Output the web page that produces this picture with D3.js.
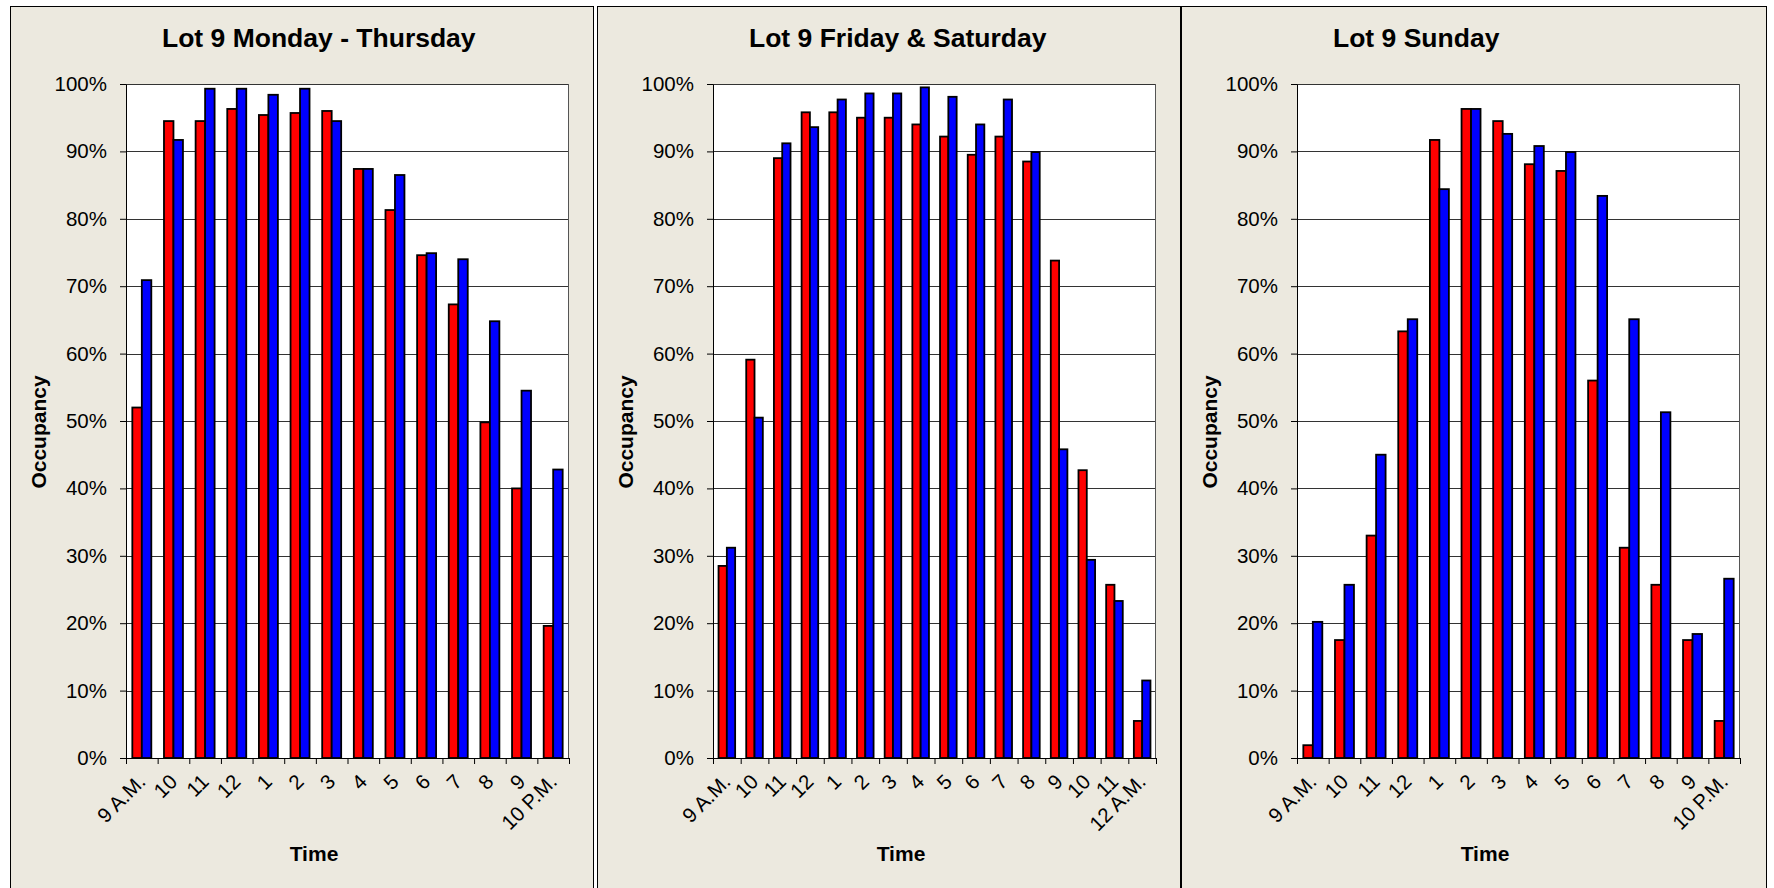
<!DOCTYPE html>
<html>
<head>
<meta charset="utf-8">
<script src="https://cdn.jsdelivr.net/npm/d3@7"></script>
<style>
  body { margin: 0; background: #fff; }
  svg { display: block; font-family: "Liberation Sans", Arial, sans-serif; }
</style>
</head>
<body>
<div class="chart-area"></div>
<script>
// hour labels for each chart
var hoursMonThu = ["9 A.M.", "10", "11", "12", "1", "2", "3", "4", "5", "6", "7", "8", "9", "10 P.M."];
var hoursFriSat = ["9 A.M.", "10", "11", "12", "1", "2", "3", "4", "5", "6", "7", "8", "9", "10", "11", "12 A.M."];
var hoursSun = ["9 A.M.", "10", "11", "12", "1", "2", "3", "4", "5", "6", "7", "8", "9", "10 P.M."];

// occupancy in percent, red series and blue series
var monThuRed  = [52.0, 94.5, 94.5, 96.3, 95.4, 95.7, 96.0, 87.4, 81.3, 74.6, 67.3, 49.8, 40.0, 19.6];
var monThuBlue = [70.9, 91.7, 99.3, 99.3, 98.4, 99.3, 94.5, 87.4, 86.5, 74.9, 74.0, 64.8, 54.5, 42.8];

var friSatRed  = [28.5, 59.1, 89.0, 95.8, 95.8, 95.0, 95.0, 94.0, 92.2, 89.5, 92.2, 88.5, 73.8, 42.7, 25.7, 5.5];
var friSatBlue = [31.2, 50.5, 91.2, 93.6, 97.7, 98.6, 98.6, 99.5, 98.1, 94.0, 97.7, 89.9, 45.8, 29.4, 23.3, 11.5];

var sunRed  = [1.9, 17.5, 33.0, 63.3, 91.7, 96.3, 94.5, 88.1, 87.1, 56.0, 31.2, 25.7, 17.5, 5.5];
var sunBlue = [20.2, 25.7, 45.0, 65.1, 84.4, 96.3, 92.6, 90.8, 89.9, 83.4, 65.1, 51.3, 18.4, 26.6];

var yTicks = [0, 10, 20, 30, 40, 50, 60, 70, 80, 90, 100];
var titles = ["Lot 9 Monday - Thursday", "Lot 9 Friday & Saturday", "Lot 9 Sunday"];

var width = 1774, height = 888;

var svg = d3.select(".chart-area")
    .append("svg")
    .attr("width", width)
    .attr("height", height);

// panel placement
var panelX = [10, 597, 1181];
var panelW = [583, 583, 585];

var plotLeft = 116, plotTop = 84, plotW = 443, plotH = 674;

var y = d3.scaleLinear().domain([0, 100]).range([plotH, 0]);

function drawPanel(i, cats, red, blue) {
    var g = svg.append("g")
        .attr("transform", "translate(" + panelX[i] + ",0)");

    // panel background
    g.append("rect")
        .attr("x", 0.5).attr("y", 6.5)
        .attr("width", panelW[i]).attr("height", 900)
        .attr("fill", "#ECE9DF")
        .attr("stroke", "#000");

    g.append("text")
        .attr("x", 152).attr("y", 47)
        .attr("font-size", "26.5px")
        .attr("font-weight", "bold")
        .text(titles[i]);

    var plot = g.append("g")
        .attr("transform", "translate(" + plotLeft + "," + plotTop + ")");

    plot.append("rect")
        .attr("width", plotW).attr("height", plotH)
        .attr("fill", "#fff");

    // gridlines
    plot.selectAll(".grid")
        .data(yTicks)
        .enter().append("line")
        .attr("x1", 0).attr("x2", plotW)
        .attr("y1", function(d) { return Math.round(y(d)) + 0.5; })
        .attr("y2", function(d) { return Math.round(y(d)) + 0.5; })
        .attr("stroke", "#333")
        .attr("stroke-width", 1);

    plot.append("line")
        .attr("x1", plotW - 0.5).attr("x2", plotW - 0.5)
        .attr("y1", 0).attr("y2", plotH)
        .attr("stroke", "#555");

    // hour labels repeat (9, 10, 11), so the band scale works on the index
    var idx = d3.range(cats.length);

    var x0 = d3.scaleBand()
        .domain(idx)
        .range([0, plotW])
        .paddingInner(0.4)
        .paddingOuter(0.2);

    var x1 = d3.scaleBand()
        .domain(["red", "blue"])
        .range([0, x0.bandwidth()]);

    var rows = idx.map(function(j) { return {j: j, red: red[j], blue: blue[j]}; });

    var groups = plot.selectAll(".cat")
        .data(rows)
        .enter().append("g")
        .attr("transform", function(d) { return "translate(" + x0(d.j) + ",0)"; });

    groups.append("rect")
        .attr("x", x1("red"))
        .attr("y", function(d) { return y(d.red); })
        .attr("width", x1.bandwidth())
        .attr("height", function(d) { return plotH - y(d.red); })
        .attr("fill", "#FF0000")
        .attr("stroke", "#000")
        .attr("stroke-width", 1.8);

    groups.append("rect")
        .attr("x", x1("blue"))
        .attr("y", function(d) { return y(d.blue); })
        .attr("width", x1.bandwidth())
        .attr("height", function(d) { return plotH - y(d.blue); })
        .attr("fill", "#0000FF")
        .attr("stroke", "#000")
        .attr("stroke-width", 1.8);

    // y axis
    var yAxis = plot.append("g")
        .call(d3.axisLeft(y)
            .tickValues(yTicks)
            .tickSize(6)
            .tickSizeOuter(0)
            .tickPadding(13)
            .tickFormat(function(d) { return d + "%"; }));
    yAxis.selectAll("text").attr("font-size", "20.5px").attr("fill", "#000").attr("font-family", null);
    yAxis.selectAll("line, path").attr("stroke", "#000");

    // x axis, ticks sit between the categories
    var xEdge = d3.scaleLinear().domain([0, cats.length]).range([0, plotW]);
    var xAxis = plot.append("g")
        .attr("transform", "translate(0," + plotH + ")")
        .call(d3.axisBottom(xEdge)
            .tickValues(d3.range(cats.length + 1))
            .tickSize(6)
            .tickSizeOuter(0)
            .tickFormat(""));
    xAxis.selectAll("line, path").attr("stroke", "#000");

    plot.selectAll(".xlab")
        .data(idx)
        .enter().append("text")
        .attr("transform", function(j) {
            return "translate(" + (x0(j) + x0.bandwidth() / 2 + 5) + "," + (plotH + 25) + ") rotate(-45)";
        })
        .attr("text-anchor", "end")
        .attr("font-size", "20.5px")
        .text(function(j) { return cats[j]; });

    // axis titles
    g.append("text")
        .attr("transform", "translate(36,432) rotate(-90)")
        .attr("text-anchor", "middle")
        .attr("font-size", "21px")
        .attr("font-weight", "bold")
        .text("Occupancy");

    g.append("text")
        .attr("x", 304).attr("y", 861)
        .attr("text-anchor", "middle")
        .attr("font-size", "21px")
        .attr("font-weight", "bold")
        .text("Time");
}

drawPanel(0, hoursMonThu, monThuRed, monThuBlue);
drawPanel(1, hoursFriSat, friSatRed, friSatBlue);
drawPanel(2, hoursSun, sunRed, sunBlue);
</script>
</body>
</html>
